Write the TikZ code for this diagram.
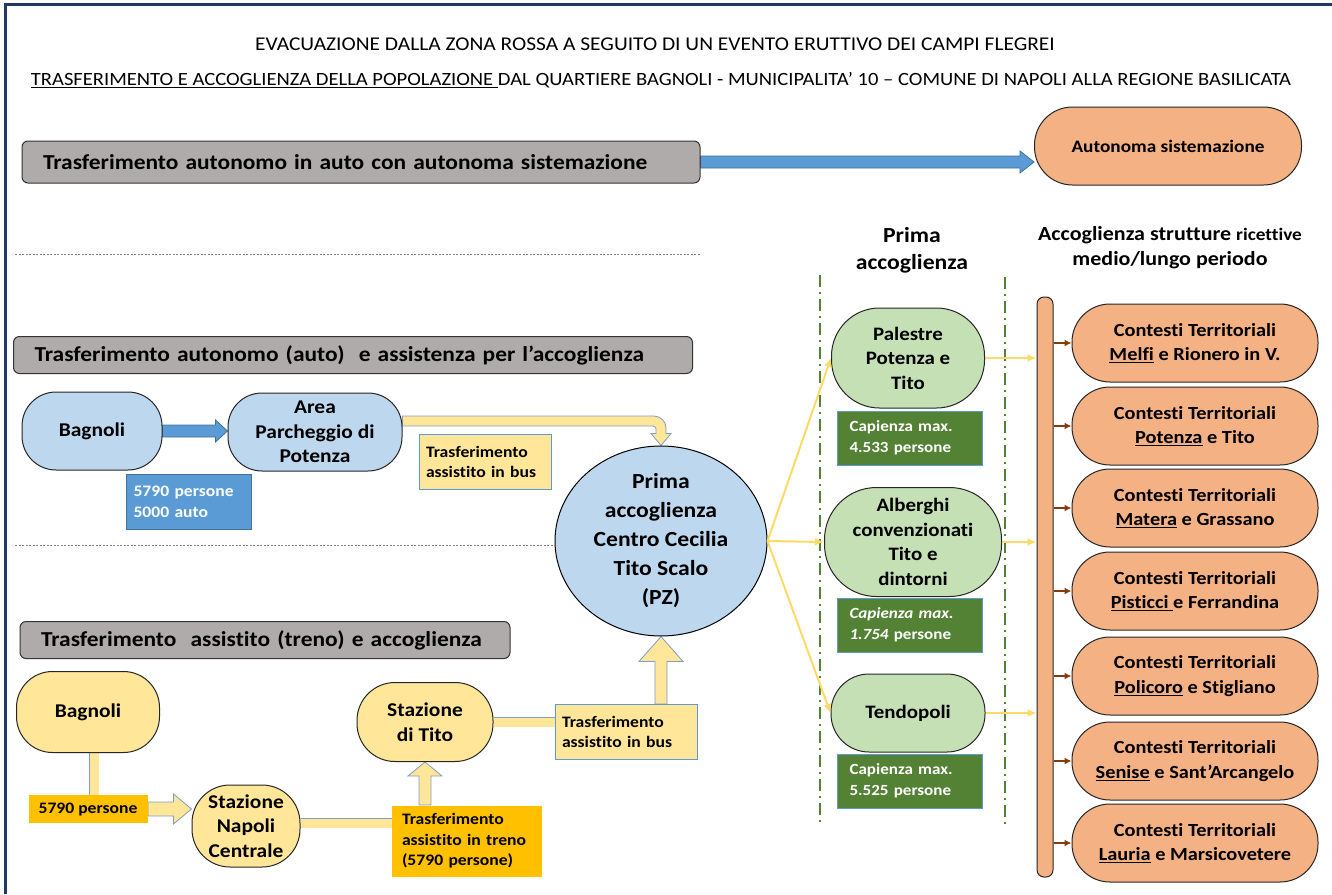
\documentclass[tikz,border=0pt]{standalone}
\usepackage{fontspec}
\setmainfont{Carlito}[FakeStretch=1.1, Ligatures=NoCommon]
\usetikzlibrary{shapes.geometric,calc,backgrounds,arrows.meta}
\definecolor{navy}{HTML}{1F3864}
\definecolor{grayF}{HTML}{AFABAB}
\definecolor{blueF}{HTML}{BDD7EE}
\definecolor{blueD}{HTML}{5B9BD5}
\definecolor{blueL}{HTML}{41719C}
\definecolor{yellowF}{HTML}{FFE699}
\definecolor{yellowL}{HTML}{7F9DC6}
\definecolor{yellowT}{HTML}{FFD966}
\definecolor{goldF}{HTML}{FFC000}
\definecolor{greenF}{HTML}{C5E0B4}
\definecolor{greenD}{HTML}{548235}
\definecolor{orangeF}{HTML}{F4B183}
\definecolor{brownA}{HTML}{843C0C}
\tikzset{
    frame/.style={draw=navy, line width=3pt},
    title/.style={font=\fontsize{19.5}{22}\selectfont, inner sep=0pt},
    graybar/.style={draw=black!80, fill=grayF, rounded corners=6, line width=1pt, align=left,
        inner xsep=21pt, inner ysep=0pt, font=\bfseries\fontsize{21.3}{25}\selectfont},
    pill/.style={draw=black!85, line width=1pt, rounded corners=#1, align=center, inner sep=0pt,
        font=\bfseries\fontsize{19.5}{24.5}\selectfont},
    tag/.style={align=left, inner xsep=7pt, inner ysep=0pt, line width=1pt,
        font=\bfseries\fontsize{16}{20.5}\selectfont},
    captag/.style={tag, inner xsep=12pt, fill=greenD, draw=blueD, text=white, font=\bfseries\fontsize{15.5}{21}\selectfont,
        minimum width=145, minimum height=54, text width=121},
    sep/.style={draw=gray, line width=0.7pt, dash pattern=on 2pt off 1.5pt},
    divider/.style={draw=greenD, line width=2.5pt, dash pattern=on 12pt off 5pt on 2pt off 5pt},
    bluearrow/.style={fill=blueD, draw=blueL, line width=0.8pt},
    yarrow/.style={fill=yellowF, draw=yellowL, line width=0.8pt},
    ybar/.style={draw=yellowL, line width=0.8pt, double=yellowF, double distance=9pt},
    thinarrow/.style={draw=yellowT, line width=2pt, -{Latex[length=9pt,width=8pt]}},
    brownarrow/.style={draw=brownA, line width=2pt, -{Latex[length=7pt,width=7pt]}}
}
\newcommand{\rightblock}[6]{%
    \filldraw[#1] let \p1=(#2), \p2=(#3) in
        (\x1,\y1+#4) -- (\x2-#6,\y1+#4) -- (\x2-#6,\y1+#5) -- (\x2,\y1)
        -- (\x2-#6,\y1-#5) -- (\x2-#6,\y1-#4) -- (\x1,\y1-#4) -- cycle ;}
\newcommand{\upblock}[6]{%
    \filldraw[#1] let \p1=(#2), \p2=(#3) in
        (\x1-#4,\y1) -- (\x1-#4,\y2-#6) -- (\x1-#5,\y2-#6) -- (\x1,\y2)
        -- (\x1+#5,\y2-#6) -- (\x1+#4,\y2-#6) -- (\x1+#4,\y1) -- cycle ;}
\begin{document}
\begin{tikzpicture}[x=1pt,y=-1pt]
    \useasboundingbox (0,0) rectangle (1332,894) ;
    \draw[frame] (5,894) -- (5,4) -- (1332,4) ;

    \node[title] (t1) at (655,44) {EVACUAZIONE DALLA ZONA ROSSA A SEGUITO DI UN EVENTO ERUTTIVO DEI CAMPI FLEGREI} ;
    \node[title, font=\fontsize{18.7}{22}\selectfont] (t2) at (661,80) {\underline{TRASFERIMENTO E ACCOGLIENZA DELLA POPOLAZIONE\ }DAL QUARTIERE BAGNOLI - MUNICIPALITA’ 10 – COMUNE DI NAPOLI ALLA REGIONE BASILICATA} ;

    \node[graybar, minimum width=678, minimum height=42, text width=636] (g1) at (361,162) {Trasferimento autonomo in auto con autonoma sistemazione} ;
    \node[pill=38, fill=orangeF, minimum width=267, minimum height=78, font=\bfseries\fontsize{17.5}{20}\selectfont] (auto) at (1168,146) {Autonoma sistemazione} ;

    \draw[sep] (15,254) -- (700,254) ;

    \node[graybar, minimum width=679, minimum height=37, text width=637] (g2) at (353,355) {Trasferimento autonomo (auto)\ \ e assistenza per l’accoglienza} ;
    \node[pill=34, fill=blueF, minimum width=140, minimum height=78] (bagA) at (92,431) {Bagnoli} ;
    \node[pill=34, fill=blueF, minimum width=174, minimum height=78] (park) at (315,432) {Area\\Parcheggio di\\Potenza} ;
    \node[tag, fill=blueD, draw=blueL, text=white, minimum width=125, minimum height=55, text width=111] (pers) at (189,502) {5790 persone\\5000 auto} ;
    \node[tag, fill=yellowF, draw=blueD, minimum width=132, minimum height=55, text width=118] (bus1) at (485,462) {Trasferimento\\assistito in bus} ;
    \node[ellipse, draw=black, line width=1pt, fill=blueF, minimum width=212, minimum height=180, inner sep=0pt, align=center,
        font=\bfseries\fontsize{21.5}{29}\selectfont] (prima) at (661,541) {Prima\\accoglienza\\Centro Cecilia\\Tito Scalo\\(PZ)} ;

    \draw[sep] (15,545) -- (prima.west |- 0,545) ;

    \node[graybar, minimum width=490, minimum height=37, text width=448] (g3) at (265,640) {Trasferimento\ \ assistito (treno) e accoglienza} ;
    \node[pill=36, fill=yellowF, minimum width=143, minimum height=81] (bagB) at (88,712) {Bagnoli} ;
    \node[tag, fill=goldF, minimum width=119, minimum height=28] (p5790) at (88,809) {5790 persone} ;
    \node[pill=38, fill=yellowF, minimum width=108, minimum height=82] (napoli) at (246,826) {Stazione\\Napoli\\Centrale} ;
    \node[tag, inner xsep=10pt, fill=goldF, minimum width=150, minimum height=71, text width=130] (treno) at (467,841) {Trasferimento\\assistito in treno\\(5790 persone)} ;
    \node[pill=38, fill=yellowF, minimum width=136, minimum height=79] (tito) at (425,722) {Stazione\\di Tito} ;
    \node[tag, fill=yellowF, draw=blueD, minimum width=142, minimum height=55, text width=128] (bus2) at (626,732) {Trasferimento\\assistito in bus} ;

    \node[align=center, font=\bfseries\fontsize{21.5}{27}\selectfont] (hd1) at (912,250) {Prima\\accoglienza} ;
    \node[align=center, font=\bfseries\fontsize{20}{25}\selectfont] (hd2) at (1170,248) {Accoglienza strutture {\fontsize{17.5}{25}\selectfont ricettive}\\medio/lungo periodo} ;
    \draw[divider] (820,275) -- (820,822) ;
    \draw[divider] (1005,277) -- (1005,825) ;

    \node[pill=48, fill=greenF, minimum width=153, minimum height=100, font=\bfseries\fontsize{19}{24.5}\selectfont] (pal) at (908,358) {Palestre\\Potenza e\\Tito} ;
    \node[captag] (cap1) at (910,438) {Capienza max.\\4.533 persone} ;
    \node[pill=52, fill=greenF, minimum width=177, minimum height=109, font=\bfseries\fontsize{19}{24.5}\selectfont] (alb) at (913,542) {Alberghi\\convenzionati\\Tito e\\dintorni} ;
    \node[captag] (cap2) at (910,625) {\textit{Capienza max.}\\\textit{1.754} persone} ;
    \node[pill=38, fill=greenF, minimum width=154, minimum height=78, font=\bfseries\fontsize{19}{24.5}\selectfont] (tend) at (908,713) {Tendopoli} ;
    \node[captag] (cap3) at (910,781) {Capienza max.\\5.525 persone} ;

    \node[draw=black!85, fill=orangeF, line width=1pt, rounded corners=7, minimum width=16, minimum height=580, inner sep=0pt] (rail) at (1045,587) {} ;
    \foreach \i/\y/\place in {1/343/{\underline{Melfi} e Rionero in V.},2/426/{\underline{Potenza} e Tito},
        3/508/{\underline{Matera} e Grassano},4/591/{\underline{Pisticci\ }e Ferrandina},
        5/676/{\underline{Policoro} e Stigliano},6/761/{\underline{Senise} e Sant’Arcangelo},
        7/843/{\underline{Lauria} e Marsicovetere}}
        \node[pill=38, fill=orangeF, minimum width=246, minimum height=78, font=\bfseries\fontsize{18.5}{24.5}\selectfont] (c\i) at (1195,\y) {Contesti Territoriali\\\place} ;

    \begin{scope}[on background layer]
    \rightblock{bluearrow}{g1.east}{auto.west}{6pt}{11pt}{14pt}
    \rightblock{bluearrow}{bagA.east}{park.west}{6pt}{11pt}{12pt}
    \filldraw[yarrow] let \p1=($(park.east)+(0,-11)$), \p2=(prima.north) in
        (\x1,\y1+5pt) [rounded corners=12pt] -- (\x2+5pt,\y1+5pt) [sharp corners] -- (\x2+5pt,\y2+12pt)
        -- (\x2+10pt,\y2+12pt) -- (\x2,\y2) -- (\x2-10pt,\y2+12pt) -- (\x2-5pt,\y2+12pt)
        [rounded corners=3pt] -- (\x2-5pt,\y1-5pt) [sharp corners] -- (\x1,\y1-5pt) -- cycle ;
    \draw[ybar] ([xshift=6]bagB.south) -- ([xshift=6]bagB.south |- p5790.north) ;
    \rightblock{yarrow}{p5790.east}{napoli.west}{7pt}{15pt}{18pt}
    \draw[ybar] ([yshift=3]napoli.east) -- ([yshift=3]napoli.east -| treno.west) ;
    \upblock{yarrow}{tito.south |- treno.north}{tito.south}{6pt}{17pt}{14pt}
    \draw[ybar] (tito.east) -- (tito.east -| bus2.west) ;
    \upblock{yarrow}{prima.south |- bus2.north}{prima.south}{6pt}{22pt}{25pt}
    \end{scope}

    \draw[thinarrow] (prima.east) -- (pal.west) ;
    \draw[thinarrow] (prima.east) -- (alb.west) ;
    \draw[thinarrow] (prima.east) -- (tend.west) ;
    \draw[thinarrow] (pal.east) -- (rail.west |- pal.east) ;
    \draw[thinarrow] (alb.east) -- (rail.west |- alb.east) ;
    \draw[thinarrow] (tend.east) -- (rail.west |- tend.east) ;
    \foreach \i in {1,...,7}
        \draw[brownarrow] (rail.east |- c\i.west) -- (c\i.west) ;
\end{tikzpicture}
\end{document}
